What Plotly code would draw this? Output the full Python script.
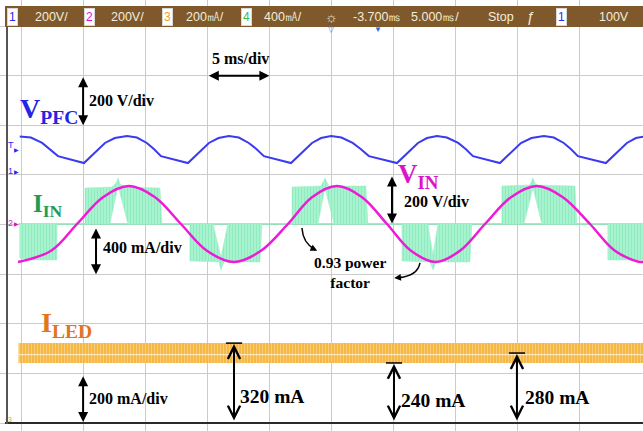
import plotly.graph_objects as go

W, H = 643, 431

# ---------------- data (time in ms, 5 ms/div) ----------------
# V_PFC (V) - channel 1, 200 V/div
VPFC_T = [-0.10, 0.80, 1.70, 2.30, 2.98, 5.07,
          5.55, 6.12, 6.76, 7.55, 8.53, 9.33, 10.13, 10.70, 11.27, 13.44,
          13.92, 14.49, 15.13, 15.90, 16.74, 17.54, 18.34, 18.95, 19.56, 21.74,
          22.22, 22.79, 23.43, 24.16, 24.96, 25.80, 26.70, 27.35, 28.01, 30.27,
          30.75, 31.32, 31.96, 32.69, 33.49, 34.29, 35.20, 35.80, 36.39, 38.56,
          39.04, 39.61, 40.25, 41.10, 42.10, 42.90, 43.70, 44.27, 44.84, 47.09,
          47.57, 48.14, 48.78, 49.51, 50.20]
VPFC_V = [143, 139, 117, 93, 64, 36,
          60, 89, 117, 137, 145, 139, 117, 93, 64, 36,
          60, 89, 117, 137, 145, 139, 117, 93, 64, 36,
          60, 89, 117, 137, 145, 139, 117, 93, 64, 36,
          60, 89, 117, 137, 145, 139, 117, 93, 64, 36,
          60, 89, 117, 137, 145, 139, 117, 93, 64, 36,
          60, 89, 117, 137, 143]

# V_IN (V) - channel 2, 200 V/div
VIN_T = [-0.24, 2.42, 4.51, 6.60, 8.69, 10.79, 12.88, 14.97, 17.15, 19.32,
         21.49, 23.43, 25.44, 27.46, 29.47, 31.40, 33.41, 35.34, 37.36, 39.45,
         41.54, 43.63, 45.81, 47.82, 49.83, 50.30]
VIN_V = [-153, -108, 0, 108, 153, 108, 0, -108, -153, -108,
         0, 108, 153, 108, 0, -108, -153, -108, 0, 108,
         153, 108, 0, -108, -153, -150]

# I_IN (mA) - channel 4, 400 mA/div : envelope of the switching bursts
IIN_T = [-0.10, -0.10, 0.72, 2.90, 2.90, None,
         5.15, 5.15, 7.33, 7.65, 7.81, 7.97, 8.45, 11.19, 11.35, 8.61, 7.81, 7.16, None,
         13.60, 13.60, 15.94, 16.10, 16.34, 19.24, 19.40, 16.66, 16.10, 15.46, None,
         21.82, 21.82, 24.15, 24.47, 24.79, 27.77, 27.93, 25.20, 24.47, 23.91, None,
         30.67, 30.67, 32.92, 33.17, 33.41, 36.14, 36.31, 33.57, 33.17, 32.76, None,
         38.72, 38.72, 40.97, 41.22, 41.46, 44.60, 44.76, 41.94, 41.22, 40.49, None,
         47.25, 47.25, 50.30, 50.30]
IIN_I = [0, -274, -290, -290, 0, None,
         0, 290, 298, 330, 371, 322, 298, 290, 0, 0, 306, 0, None,
         0, -298, -306, -371, -306, -306, 0, 0, -266, 0, None,
         0, 298, 306, 371, 306, 306, 0, 0, 290, 0, None,
         0, -298, -306, -371, -306, -306, 0, 0, -250, 0, None,
         0, 306, 314, 371, 314, 306, 0, 0, 290, 0, None,
         0, -290, -290, 0]
IIN_ZERO_T = [-0.2, 50.3]
IIN_ZERO = [0, 0]

# I_LED (mA) - channel 3, 200 mA/div : ripple band
ILED_T = [-0.2, 50.3]
ILED_HI = [322, 322]
ILED_MID = [276, 276]
ILED_LO = [242, 242]

# marked values
MARK_T = [17.15, 30.03, 39.93]
MARK_I = [322, 242, 282]
MARK_TXT = ["320 mA", "240 mA", "280 mA"]

# scope status bar
BAR_TXT = ["200V/", "200V/", "200㎃/", "400㎃/", "☼", "-3.700㎳", "5.000㎳/", "Stop", "ƒ", "100V"]
BAR_X = [51, 127, 205, 283, 331, 377, 435, 501, 531, 614]
BOX_TXT = ["1", "2", "3", "4", "1"]
BOX_X = [12, 89, 167, 246, 561]
BOX_COL = ["#2a2af0", "#e010d0", "#f0a020", "#30c060", "#2a2af0"]

# screen ranges (10 x 8 divisions)
T_RANGE = [-1.691, 50.08]
ILED_RANGE = [-32.2, 1704.8]
VPFC_RANGE = [-1043.8, 693.2]
VIN_RANGE = [-834.3, 902.8]
IIN_RANGE = [-1668.5, 1805.5]

GRID = "#cbcbcb"
SERIF = "Liberation Serif, Times New Roman, serif"
SANS = "Liberation Sans, Arial, sans-serif"

fig = go.Figure()

# I_LED band (main y axis)
fig.add_trace(go.Scatter(x=ILED_T, y=ILED_LO, mode="lines", line=dict(width=0, color="#f3b13c"),
                         hoverinfo="skip"))
fig.add_trace(go.Scatter(x=ILED_T, y=ILED_HI, mode="lines", line=dict(width=0, color="#f3b13c"),
                         fill="tonexty", fillcolor="#f5b948",
                         fillpattern=dict(shape="|", size=3, solidity=0.3,
                                          fgcolor="#fde6bb", bgcolor="#f5b845"),
                         hoverinfo="skip"))
fig.add_trace(go.Scatter(x=ILED_T, y=ILED_MID, mode="lines",
                         line=dict(width=1.2, color="rgba(255,238,205,0.85)"), hoverinfo="skip"))

# V_PFC (y2)
fig.add_trace(go.Scatter(x=VPFC_T, y=VPFC_V, yaxis="y2", mode="lines",
                         line=dict(width=2, color="#3a3aee"), hoverinfo="skip"))

# I_IN (y3, drawn below V_IN)
fig.add_trace(go.Scatter(x=IIN_ZERO_T, y=IIN_ZERO, yaxis="y3", mode="lines",
                         line=dict(width=1.5, color="#86e6b2"), hoverinfo="skip"))
fig.add_trace(go.Scatter(x=IIN_T, y=IIN_I, yaxis="y3", mode="lines", fill="toself",
                         line=dict(width=0.5, color="#9cefc6"), fillcolor="#a4f2cc",
                         fillpattern=dict(shape="|", size=3, solidity=0.3,
                                          fgcolor="#74e2aa", bgcolor="#a8f3cf"),
                         connectgaps=False, hoverinfo="skip"))

# V_IN (y4, top)
fig.add_trace(go.Scatter(x=VIN_T, y=VIN_V, yaxis="y4", mode="lines",
                         line=dict(width=2.5, color="#ee1ad8", shape="spline", smoothing=1),
                         hoverinfo="skip"))


def px(x):
    return x / W


def py(y):
    return 1 - y / H


ann = []


def label(text, x, y, size, color="black", xanchor="left", font=SERIF):
    ann.append(dict(text=text, x=px(x), y=py(y), xref="paper", yref="paper",
                    xanchor=xanchor, yanchor="middle", showarrow=False,
                    font=dict(family=font, size=size, color=color)))


def darrow(x0, y0, x1, y1, head=2):
    ann.append(dict(text="", x=x1, y=y1, ax=x0, ay=y0, xref="x", yref="y", axref="x", ayref="y",
                    showarrow=True, arrowside="end+start", arrowhead=head, startarrowhead=head,
                    arrowsize=1.0 if head == 2 else 1.2, startarrowsize=1.0 if head == 2 else 1.2,
                    arrowwidth=2, arrowcolor="black"))


# text labels
label("<b>5 ms/div</b>", 240, 58, 16, xanchor="center")
label("<b>200 V/div</b>", 87, 100, 16)
label("<b>V<sub>PFC</sub></b>", 18, 110, 28, color="#2424e6")
label("<b>I<sub>IN</sub></b>", 31, 205, 25, color="#1f9b52")
label("<b>V<sub>IN</sub></b>", 396, 176, 27, color="#dc14c8")
label("<b>I<sub>LED</sub></b>", 39, 324, 28, color="#e2761c")
label("<b>400 mA/div</b>", 101, 247, 16)
label("<b>200 V/div</b>", 402, 201, 16)
label("<b>0.93 power<br>factor</b>", 350, 272, 15.5, xanchor="center")
label("<b>200 mA/div</b>", 87, 398, 16)
for t, i, s, xx, yy in zip(MARK_T, MARK_I, MARK_TXT, [238, 399, 523], [396, 400, 397]):
    label("<b>%s</b>" % s, xx, yy, 19.5)

# black arrows
darrow(15, 1400, 20, 1400)
darrow(5.0, 1400, 5.0, 1200)
darrow(6.04, 790, 6.04, 600)
darrow(29.87, 1000, 29.87, 804)
darrow(5.0, 194, 5.0, 4)
for t, i in zip(MARK_T, MARK_I):
    darrow(t, 4, t, i - 4, head=5)

shapes = []
# caps on the marked ILED values
for t, i in zip(MARK_T, MARK_I):
    shapes.append(dict(type="line", xref="x", yref="y", x0=t - 0.65, x1=t + 0.65, y0=i, y1=i,
                       line=dict(color="black", width=1.5)))

# curved arrows for power factor
shapes.append(dict(type="path", xref="x", yref="y", path="M22.62,786 Q22.70,725 23.65,700",
                   line=dict(color="black", width=1.5)))
ann.append(dict(text="", x=23.85, y=694, ax=-8, ay=-4, xref="x", yref="y", showarrow=True,
                arrowhead=2, arrowsize=0.9, arrowwidth=1.5, arrowcolor="black"))
shapes.append(dict(type="path", xref="x", yref="y", path="M32.12,645 Q31.95,592 30.35,585",
                   line=dict(color="black", width=1.5)))
ann.append(dict(text="", x=30.05, y=584, ax=9, ay=-1, xref="x", yref="y", showarrow=True,
                arrowhead=2, arrowsize=0.9, arrowwidth=1.5, arrowcolor="black"))

# frame lines
shapes.append(dict(type="line", xref="paper", yref="paper", x0=px(5), x1=1, y0=py(423), y1=py(423),
                   line=dict(color="#2a2a2a", width=2.2), layer="above"))
shapes.append(dict(type="line", xref="paper", yref="paper", x0=px(7), x1=px(7), y0=py(424), y1=py(27),
                   line=dict(color="#555555", width=2), layer="above"))

# status bar
shapes.append(dict(type="rect", xref="paper", yref="paper", x0=px(5), x1=1, y0=py(27), y1=py(6),
                   fillcolor="#7f592c", line=dict(width=0), layer="above"))
for s, x in zip(BAR_TXT, BAR_X):
    label(s, x, 17, 12.5 if s not in ("☼", "ƒ") else 14, color="#f4ecd9", xanchor="center", font=SANS)
for s, x, c in zip(BOX_TXT, BOX_X, BOX_COL):
    ann.append(dict(text=s, x=px(x), y=py(17), xref="paper", yref="paper", xanchor="center",
                    yanchor="middle", showarrow=False, bgcolor="white", bordercolor="#d8d8d8",
                    borderwidth=1, borderpad=1, font=dict(family=SANS, size=12, color=c)))
label("▽", 331, 30, 8, color="#4a7ae8", xanchor="center", font=SANS)
label("▼", 378, 30, 8, color="#2a6ae0", xanchor="center", font=SANS)

# channel markers on the left
label("T", 11, 145, 9, color="#2a2af0", xanchor="center", font=SANS)
label("▶", 16, 150, 6, color="#2a2af0", xanchor="center", font=SANS)
label("1", 10, 171, 9, color="#2a2af0", xanchor="center", font=SANS)
label("▶", 16, 172, 6, color="#2a2af0", xanchor="center", font=SANS)
label("2", 10, 223, 9, color="#e010d0", xanchor="center", font=SANS)
label("▶", 16, 224, 6, color="#e010d0", xanchor="center", font=SANS)
label("3", 10, 419, 7, color="#f0a020", xanchor="center", font=SANS)

common = dict(showticklabels=False, zeroline=False, showline=False, fixedrange=True)
fig.update_layout(
    width=W, height=H,
    margin=dict(l=0, r=0, t=0, b=0, autoexpand=False),
    paper_bgcolor="white", plot_bgcolor="white",
    showlegend=False, hovermode=False,
    xaxis=dict(range=T_RANGE, dtick=5, tick0=0, showgrid=True, gridcolor=GRID, gridwidth=1.4,
               ticks="", **common),
    yaxis=dict(range=ILED_RANGE, dtick=200, tick0=0, showgrid=True, gridcolor=GRID, gridwidth=1.4,
               ticks="", **common),
    yaxis2=dict(range=VPFC_RANGE, overlaying="y", visible=False),
    yaxis3=dict(range=IIN_RANGE, overlaying="y", visible=False),
    yaxis4=dict(range=VIN_RANGE, overlaying="y", visible=False),
    xaxis2=dict(range=T_RANGE, overlaying="x", anchor="free", position=py(224), side="bottom",
                ticks="outside", ticklen=2, tickwidth=1, tickcolor="#b5b5b5", dtick=1, tick0=0,
                showgrid=False, **common),
    xaxis3=dict(range=T_RANGE, overlaying="x", anchor="free", position=py(224), side="bottom",
                ticks="inside", ticklen=2, tickwidth=1, tickcolor="#b5b5b5", dtick=1, tick0=0,
                showgrid=False, **common),
    yaxis5=dict(range=ILED_RANGE, overlaying="y", anchor="free", position=px(331.5), side="left",
                ticks="outside", ticklen=2, tickwidth=1, tickcolor="#b5b5b5", dtick=50, tick0=0,
                showgrid=False, **common),
    yaxis6=dict(range=ILED_RANGE, overlaying="y", anchor="free", position=px(331.5), side="left",
                ticks="inside", ticklen=2, tickwidth=1, tickcolor="#b5b5b5", dtick=50, tick0=0,
                showgrid=False, **common),
    annotations=ann, shapes=shapes,
)

fig.write_html("out.html")
